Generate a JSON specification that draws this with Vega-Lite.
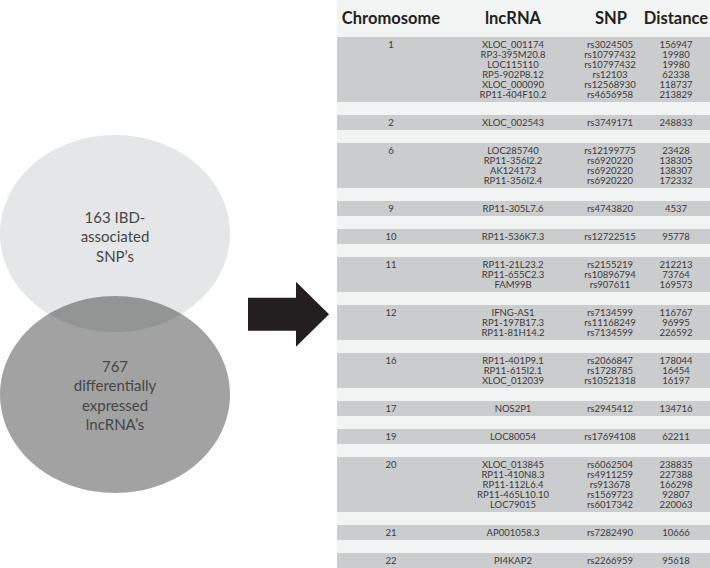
{
  "$schema": "https://vega.github.io/schema/vega-lite/v6.json",
  "padding": 0,
  "background": "#f2f3f3",
  "config": {"view": {"stroke": null}, "concat": {"spacing": 0}},
  "datasets": {
    "sets": [
      {"set": "163 IBD-associated SNP’s", "label": ["163 IBD-", "associated", "SNP’s"], "cx": 115, "cy": 233.5},
      {"set": "767 differentially expressed lncRNA’s", "label": ["767", "differentially", "expressed", "lncRNA’s"], "cx": 115, "cy": 394.5}
    ],
    "arrow": [{"item": "arrow", "cx": 288.5, "cy": 314.25}],
    "header": [{"name": "Chromosome"}, {"name": "lncRNA"}, {"name": "SNP"}, {"name": "Distance"}],
    "snps": [
      {"chr": 1, "k": 0, "lncRNA": "XLOC_001174", "snp": "rs3024505", "distance": 156947},
      {"chr": 1, "k": 1, "lncRNA": "RP3-395M20.8", "snp": "rs10797432", "distance": 19980},
      {"chr": 1, "k": 2, "lncRNA": "LOC115110", "snp": "rs10797432", "distance": 19980},
      {"chr": 1, "k": 3, "lncRNA": "RP5-902P8.12", "snp": "rs12103", "distance": 62338},
      {"chr": 1, "k": 4, "lncRNA": "XLOC_000090", "snp": "rs12568930", "distance": 118737},
      {"chr": 1, "k": 5, "lncRNA": "RP11-404F10.2", "snp": "rs4656958", "distance": 213829},
      {"chr": 2, "k": 0, "lncRNA": "XLOC_002543", "snp": "rs3749171", "distance": 248833},
      {"chr": 6, "k": 0, "lncRNA": "LOC285740", "snp": "rs12199775", "distance": 23428},
      {"chr": 6, "k": 1, "lncRNA": "RP11-356I2.2", "snp": "rs6920220", "distance": 138305},
      {"chr": 6, "k": 2, "lncRNA": "AK124173", "snp": "rs6920220", "distance": 138307},
      {"chr": 6, "k": 3, "lncRNA": "RP11-356I2.4", "snp": "rs6920220", "distance": 172332},
      {"chr": 9, "k": 0, "lncRNA": "RP11-305L7.6", "snp": "rs4743820", "distance": 4537},
      {"chr": 10, "k": 0, "lncRNA": "RP11-536K7.3", "snp": "rs12722515", "distance": 95778},
      {"chr": 11, "k": 0, "lncRNA": "RP11-21L23.2", "snp": "rs2155219", "distance": 212213},
      {"chr": 11, "k": 1, "lncRNA": "RP11-655C2.3", "snp": "rs10896794", "distance": 73764},
      {"chr": 11, "k": 2, "lncRNA": "FAM99B", "snp": "rs907611", "distance": 169573},
      {"chr": 12, "k": 0, "lncRNA": "IFNG-AS1", "snp": "rs7134599", "distance": 116767},
      {"chr": 12, "k": 1, "lncRNA": "RP1-197B17.3", "snp": "rs11168249", "distance": 96995},
      {"chr": 12, "k": 2, "lncRNA": "RP11-81H14.2", "snp": "rs7134599", "distance": 226592},
      {"chr": 16, "k": 0, "lncRNA": "RP11-401P9.1", "snp": "rs2066847", "distance": 178044},
      {"chr": 16, "k": 1, "lncRNA": "RP11-615I2.1", "snp": "rs1728785", "distance": 16454},
      {"chr": 16, "k": 2, "lncRNA": "XLOC_012039", "snp": "rs10521318", "distance": 16197},
      {"chr": 17, "k": 0, "lncRNA": "NOS2P1", "snp": "rs2945412", "distance": 134716},
      {"chr": 19, "k": 0, "lncRNA": "LOC80054", "snp": "rs17694108", "distance": 62211},
      {"chr": 20, "k": 0, "lncRNA": "XLOC_013845", "snp": "rs6062504", "distance": 238835},
      {"chr": 20, "k": 1, "lncRNA": "RP11-410N8.3", "snp": "rs4911259", "distance": 227388},
      {"chr": 20, "k": 2, "lncRNA": "RP11-112L6.4", "snp": "rs913678", "distance": 166298},
      {"chr": 20, "k": 3, "lncRNA": "RP11-465L10.10", "snp": "rs1569723", "distance": 92807},
      {"chr": 20, "k": 4, "lncRNA": "LOC79015", "snp": "rs6017342", "distance": 220063},
      {"chr": 21, "k": 0, "lncRNA": "AP001058.3", "snp": "rs7282490", "distance": 10666},
      {"chr": 22, "k": 0, "lncRNA": "PI4KAP2", "snp": "rs2266959", "distance": 95618}
    ]
  },
  "hconcat": [
    {
      "width": 337,
      "height": 568,
      "view": {"fill": "white", "stroke": null},
      "encoding": {
        "x": {"field": "cx", "type": "quantitative", "axis": null, "scale": {"domain": [0, 337], "nice": false, "zero": false}},
        "y": {"field": "cy", "type": "quantitative", "axis": null, "scale": {"domain": [0, 568], "nice": false, "zero": false, "reverse": true}}
      },
      "layer": [
        {
          "data": {"name": "sets"},
          "mark": {"type": "point", "shape": "M -1 0 A 1 0.8565 0 1 0 1 0 A 1 0.8565 0 1 0 -1 0 Z", "size": 52900, "filled": true, "strokeWidth": 0},
          "encoding": {
            "color": {"field": "set", "type": "nominal", "legend": null, "scale": {"domain": ["163 IBD-associated SNP’s", "767 differentially expressed lncRNA’s"], "range": ["#e5e6e7", "#282828"]}},
            "opacity": {"field": "set", "type": "nominal", "legend": null, "scale": {"domain": ["163 IBD-associated SNP’s", "767 differentially expressed lncRNA’s"], "range": [1, 0.43]}}
          }
        },
        {
          "data": {"name": "sets"},
          "transform": [{"filter": "datum.set == '163 IBD-associated SNP’s'"}],
          "mark": {"type": "text", "font": "Lato", "fontSize": 15, "lineHeight": 19.3, "color": "#464646", "dy": -15.5, "baseline": "middle", "align": "center"},
          "encoding": {"text": {"field": "label"}}
        },
        {
          "data": {"name": "sets"},
          "transform": [{"filter": "datum.set == '767 differentially expressed lncRNA’s'"}],
          "mark": {"type": "text", "font": "Lato", "fontSize": 15, "lineHeight": 19.3, "color": "#464646", "dy": -27.5, "baseline": "middle", "align": "center"},
          "encoding": {"text": {"field": "label"}}
        },
        {
          "data": {"name": "arrow"},
          "mark": {"type": "point", "shape": "M -1 -0.41 L 0.185 -0.41 L 0.185 -0.8 L 1 0 L 0.185 0.8 L 0.185 0.41 L -1 0.41 Z", "size": 6561, "filled": true, "color": "#231f20", "opacity": 1, "strokeWidth": 0}
        }
      ]
    },
    {
      "vconcat": [
        {
          "width": 373,
          "height": 37,
          "data": {"name": "header"},
          "encoding": {
            "x": {"datum": 54, "type": "quantitative", "axis": null, "scale": {"domain": [0, 373], "nice": false, "zero": false}},
            "text": {"field": "name"}
          },
          "layer": [
            {"transform": [{"filter": "datum.name == 'Chromosome'"}], "mark": {"type": "text", "font": "Lato", "fontSize": 16.5, "fontWeight": "bold", "color": "#231f20"}},
            {"transform": [{"filter": "datum.name == 'lncRNA'"}], "mark": {"type": "text", "font": "Lato", "fontSize": 16.5, "fontWeight": "bold", "color": "#231f20"}, "encoding": {"x": {"datum": 176, "type": "quantitative"}}},
            {"transform": [{"filter": "datum.name == 'SNP'"}], "mark": {"type": "text", "font": "Lato", "fontSize": 16.5, "fontWeight": "bold", "color": "#231f20"}, "encoding": {"x": {"datum": 274, "type": "quantitative"}}},
            {"transform": [{"filter": "datum.name == 'Distance'"}], "mark": {"type": "text", "font": "Lato", "fontSize": 16.5, "fontWeight": "bold", "color": "#231f20"}, "encoding": {"x": {"datum": 339, "type": "quantitative"}}}
          ]
        },
        {
          "data": {"name": "snps"},
          "facet": {"row": {"field": "chr", "type": "ordinal", "sort": "ascending", "header": null}},
          "spacing": 13,
          "resolve": {"scale": {"y": "independent"}},
          "spec": {
            "width": 373,
            "height": {"step": 10},
            "encoding": {
              "y": {"field": "k", "type": "ordinal", "axis": null, "scale": {"type": "band", "paddingInner": 0, "paddingOuter": 0.25}}
            },
            "layer": [
              {"mark": {"type": "rect", "fill": "#cbcccd"}, "encoding": {"y": null}},
              {
                "transform": [{"filter": "datum.k == 0"}],
                "mark": {"type": "text", "font": "Lato", "fontSize": 9.5, "color": "#3a3a3a"},
                "encoding": {
                  "x": {"datum": 54, "type": "quantitative", "axis": null, "scale": {"domain": [0, 373], "nice": false, "zero": false}},
                  "text": {"field": "chr", "type": "nominal"}
                }
              },
              {
                "mark": {"type": "text", "font": "Lato", "fontSize": 9.5, "color": "#3a3a3a"},
                "encoding": {"x": {"datum": 176, "type": "quantitative"}, "text": {"field": "lncRNA", "type": "nominal"}}
              },
              {
                "mark": {"type": "text", "font": "Lato", "fontSize": 9.5, "color": "#3a3a3a"},
                "encoding": {"x": {"datum": 273, "type": "quantitative"}, "text": {"field": "snp", "type": "nominal"}}
              },
              {
                "mark": {"type": "text", "font": "Lato", "fontSize": 9.5, "color": "#3a3a3a"},
                "encoding": {"x": {"datum": 339, "type": "quantitative"}, "text": {"field": "distance", "type": "quantitative", "format": "d"}}
              }
            ]
          }
        }
      ]
    }
  ]
}
